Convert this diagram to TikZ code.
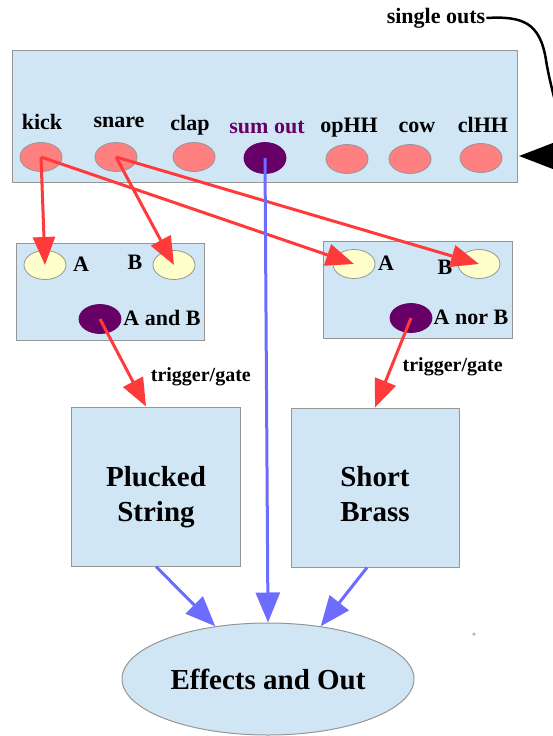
\documentclass[tikz,border=0pt]{standalone}
\usepackage{fontspec}
\setmainfont{Liberation Serif}
\usetikzlibrary{arrows.meta}
\usetikzlibrary{shapes.geometric}
\usetikzlibrary{calc}
\definecolor{mpanel}{RGB}{208, 230, 245}
\definecolor{mgray}{RGB}{150, 150, 150}
\definecolor{mpink}{RGB}{255, 128, 128}
\definecolor{mplum}{RGB}{102, 0, 102}
\definecolor{mcream}{RGB}{255, 255, 204}
\definecolor{mred}{RGB}{255, 58, 58}
\definecolor{mblue}{RGB}{108, 108, 255}
\tikzset{panel/.style = {draw=mgray, fill=mpanel, line width=1, inner sep=0}}
\tikzset{jack/.style = {ellipse, draw=mgray, line width=0.8, inner sep=0, minimum width=42, minimum height=29}}
\tikzset{outjack/.style = {jack, fill=mpink}}
\tikzset{sumjack/.style = {jack, fill=mplum, draw=mplum}}
\tikzset{injack/.style = {jack, fill=mcream}}
\tikzset{lbl/.style = {font=\bfseries\fontsize{22}{26}\selectfont, inner sep=1}}
\tikzset{triglbl/.style = {lbl, text=black, font=\bfseries\fontsize{20}{24}\selectfont}}
\tikzset{voice/.style = {align=center, font=\bfseries\fontsize{29}{35}\selectfont}}
\tikzset{trig/.style = {mred, line width=3, -{Triangle[length=28pt, width=22pt]}}}
\tikzset{audio/.style = {mblue, line width=3, -{Triangle[length=30pt, width=24pt]}}}

\begin{document}
\begin{tikzpicture}[x=1pt, y=-1pt]
    \useasboundingbox (0, 0) rectangle (552, 736);

    % drum module
    \node [panel, minimum width=505, minimum height=132] (drums) at (264.5, 116) {};
    \node [outjack] (kick) at (41, 157) {};
    \node [outjack] (snare) at (116, 157) {};
    \node [outjack] (clap) at (194, 157) {};
    \node [sumjack, minimum height=31] (sumout) at (265, 158) {};
    \node [outjack] (ophh) at (347, 159) {};
    \node [outjack] (cow) at (410, 159) {};
    \node [outjack] (clhh) at (481, 158) {};
    \node [lbl] (lkick) at (42, 122) {kick};
    \node [lbl] (lsnare) at (119, 122) {snare};
    \node [lbl] (lclap) at (190, 125) {clap};
    \node [lbl, text=mplum] (lsum) at (267, 127) {sum out};
    \node [lbl] (lophh) at (349, 128) {opHH};
    \node [lbl] (lcow) at (417, 127) {cow};
    \node [lbl] (lclhh) at (483, 125) {clHH};

    \node [lbl] (single) at (436, 18) {single outs};
    \coordinate (soend) at (519, 156);
    \draw [line width=2.5, -{Triangle[length=36pt, width=27pt]}] (single.east) .. controls (522, 16) and (540, 22) .. (546, 60) .. controls (552, 100) and (575, 156) .. (soend);

    % logic modules
    \node [panel, minimum width=188, minimum height=97] (andbox) at (110.5, 291.5) {};
    \node [injack] (anda) at (45, 265) {};
    \node [injack] (andb) at (174, 265) {};
    \node [sumjack] (andout) at (100, 319) {};
    \node [lbl] (landa) at (81, 264) {A};
    \node [lbl] (landb) at (135, 262) {B};
    \node [lbl] (landout) at (162, 318) {A and B};

    \node [panel, minimum width=189, minimum height=97] (norbox) at (417.5, 289.5) {};
    \node [injack] (nora) at (354, 264) {};
    \node [injack] (norb) at (479, 264) {};
    \node [sumjack] (norout) at (411, 318) {};
    \node [lbl] (lnora) at (386, 263) {A};
    \node [lbl] (lnorb) at (445, 267) {B};
    \node [lbl] (lnorout) at (471, 317) {A nor B};

    % voices
    \node [panel, minimum width=169, minimum height=159] (pluck) at (156, 486.5) {};
    \node [voice] (lpluck) at ($(pluck.center) + (0, 11)$) {Plucked\\String};
    \node [panel, minimum width=168, minimum height=159] (brass) at (375, 487.5) {};
    \node [voice] (lbrass) at ($(brass.center) + (0, 7)$) {Short\\Brass};
    \node [panel, ellipse, minimum width=292, minimum height=112, font=\bfseries\fontsize{29}{35}\selectfont] (fx) at (268, 679) {Effects and Out};
    \node [circle, fill=mgray!70, inner sep=0, minimum size=3.5] (speck) at (474, 634) {};

    % triggers
    \draw [trig] (kick.center) -- (anda.center);
    \draw [trig] (kick.center) -- (nora.center);
    \draw [trig] (snare.center) -- (andb.center);
    \draw [trig] (snare.center) -- (norb.center);
    \draw [trig] (andout.center) -- ($(pluck.north) + (-10, 0)$) node [triglbl, pos=0.66, right=18pt] {trigger/gate};
    \draw [trig] (norout.center) -- (brass.north) node [triglbl, pos=0.55, right=9pt] {trigger/gate};

    % audio
    \draw [audio] (sumout.center) -- (fx.north);
    \draw [audio] (pluck.south) -- (fx.135);
    \draw [audio] ($(brass.south) + (-8, 0)$) -- (fx.45);
\end{tikzpicture}
\end{document}
